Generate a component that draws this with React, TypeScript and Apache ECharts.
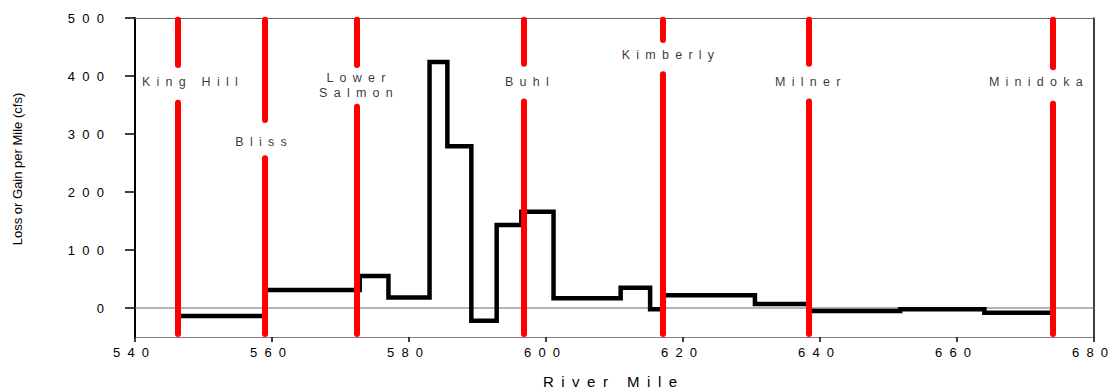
import React, { useEffect, useRef } from "react";
import * as echarts from "echarts";

// Axis ticks
const xTicks = [540, 560, 580, 600, 620, 640, 660, 680];
const yTicks = [0, 100, 200, 300, 400, 500];

// Reach start (river mile) and loss/gain per mile (cfs) along each reach
const reachStartMiles = [546.3, 558.9, 572.8, 577.0, 583.0, 585.6, 589.1, 592.8, 596.4, 601.1, 610.9, 615.2, 617.2, 630.5, 638.5, 651.7, 664.0, 674.0];
const reachValues = [-14, 31, 55, 18, 424, 279, -22, 143, 166, 17, 35, -2, 22, 7, -5, -2, -8, -8];

// Gauging stations: river mile, gap left open for the name, and name anchor
const stationNames = ["King Hill", "Bliss", "Lower\nSalmon", "Buhl", "Kimberly", "Milner", "Minidoka"];
const stationMiles = [546.3, 559.0, 572.4, 596.8, 617.0, 638.4, 674.0];
const gapTop = [419, 324, 419, 421, 462, 421, 415];
const gapBottom = [354, 258, 347, 356, 403, 356, 352];
const labelMiles = [548.0, 558.4, 572.25, 597.2, 617.8, 638.2, 671.5];
const labelValues = [390, 287, 384, 390, 436, 390, 390];

const FONT = '"Liberation Sans", Arial, Helvetica, sans-serif';
const Y_MIN = -50;
const Y_MAX = 500;

// Widely tracked lettering
const spaced = (s: string, gap: string) =>
  s
    .split("\n")
    .map((line) => Array.from(line).join(gap))
    .join("\n");

export default function App() {
  const ref = useRef<HTMLDivElement>(null);

  useEffect(() => {
    if (!ref.current) return;
    const chart = echarts.init(ref.current, undefined, { renderer: "svg" });

    const stationSegments = stationMiles.flatMap((m, i) => [
      { coords: [[m, 497], [m, gapTop[i]]] },
      { coords: [[m, gapBottom[i]], [m, -45]] },
    ]);

    chart.setOption({
      animation: false,
      backgroundColor: "#ffffff",
      grid: { left: 135, right: 20, top: 18, bottom: 53 },
      xAxis: [
        {
          type: "value",
          min: xTicks[0],
          max: xTicks[xTicks.length - 1],
          interval: 20,
          position: "bottom",
          axisLine: { show: true, onZero: false, lineStyle: { color: "#808080", width: 1 } },
          axisTick: { show: true, length: 5, lineStyle: { color: "#000", width: 1.5 } },
          axisLabel: {
            formatter: (v: number) => spaced(String(v), "\u00a0\u00a0"),
            fontFamily: FONT,
            fontSize: 13,
            color: "#000",
            margin: 9,
            padding: [0, 8, 0, 0],
          },
          splitLine: { show: false },
        },
        {
          type: "value",
          min: xTicks[0],
          max: xTicks[xTicks.length - 1],
          position: "top",
          axisLine: { show: true, onZero: false, lineStyle: { color: "#666", width: 1 } },
          axisTick: { show: false },
          axisLabel: { show: false },
          splitLine: { show: false },
        },
      ],
      yAxis: [
        {
          type: "value",
          min: Y_MIN,
          max: Y_MAX,
          position: "left",
          axisLine: { show: true, onZero: false, lineStyle: { color: "#000", width: 2 } },
          axisTick: { show: true, length: 10, customValues: yTicks, lineStyle: { color: "#000", width: 1.5 } },
          axisLabel: {
            customValues: yTicks,
            formatter: (v: number) => spaced(String(v), "\u00a0\u00a0"),
            fontFamily: FONT,
            fontSize: 13,
            color: "#000",
            margin: 31,
          },
          splitLine: { show: false },
        },
        {
          type: "value",
          min: Y_MIN,
          max: Y_MAX,
          position: "right",
          axisLine: { show: true, onZero: false, lineStyle: { color: "#000", width: 1.5 } },
          axisTick: { show: false },
          axisLabel: { show: false },
          splitLine: { show: false },
        },
      ],
      graphic: [
        {
          type: "text",
          x: 17.5,
          y: 169,
          rotation: Math.PI / 2,
          style: {
            text: "Loss or Gain per Mile (cfs)",
            fontFamily: FONT,
            fontSize: 13,
            fill: "#000",
            textAlign: "center",
            textVerticalAlign: "middle",
            align: "center",
            verticalAlign: "middle",
          },
        },
        {
          type: "text",
          x: 610,
          y: 381,
          style: {
            text: spaced("River Mile", "\u2002"),
            fontFamily: FONT,
            fontSize: 15,
            fill: "#000",
            textAlign: "center",
            textVerticalAlign: "middle",
            align: "center",
            verticalAlign: "middle",
          },
        },
      ],
      series: [
        {
          // zero reference line
          type: "line",
          data: [
            [xTicks[0], 0],
            [xTicks[xTicks.length - 1], 0],
          ],
          symbol: "none",
          silent: true,
          z: 1,
          lineStyle: { color: "#666", width: 1 },
        },
        {
          type: "line",
          step: "end",
          data: reachStartMiles.map((m, i) => [m, reachValues[i]]),
          symbol: "none",
          z: 2,
          lineStyle: { color: "#000", width: 4.5, join: "miter", cap: "butt" },
        },
        {
          type: "lines",
          coordinateSystem: "cartesian2d",
          z: 3,
          silent: true,
          lineStyle: { color: "#ff0000", width: 6, opacity: 1, cap: "round", curveness: 0 },
          data: stationSegments,
        },
        {
          type: "scatter",
          z: 4,
          symbolSize: 0.1,
          itemStyle: { color: "transparent" },
          data: labelMiles.map((m, i) => ({ value: [m, labelValues[i]], name: stationNames[i] })),
          label: {
            show: true,
            position: "inside",
            formatter: (p: any) => spaced(p.name, "\u2002"),
            fontFamily: FONT,
            fontSize: 12.5,
            lineHeight: 14.5,
            color: "#000",
          },
        },
      ],
    });

    return () => chart.dispose();
  }, []);

  return (
    <div
      ref={ref}
      style={{ position: "fixed", left: 0, top: 0, width: 1114, height: 390 }}
    />
  );
}
